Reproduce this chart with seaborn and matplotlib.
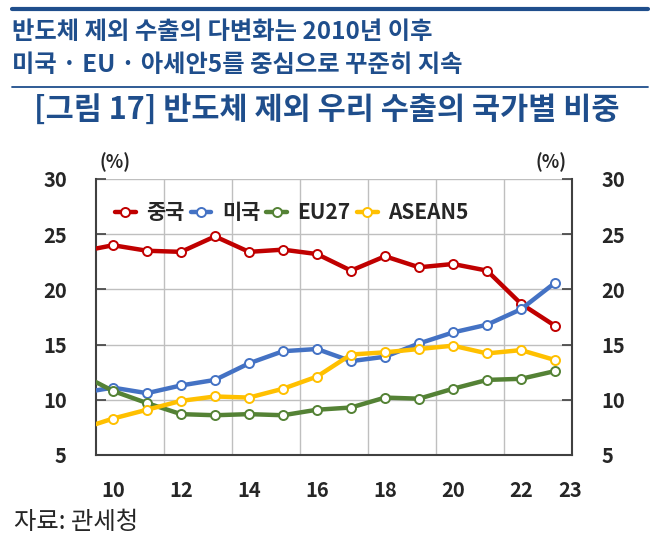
import numpy as np
import pandas as pd
from matplotlib import pyplot as plt
from matplotlib.lines import Line2D
import seaborn as sns

# 연도 (2009는 축 왼쪽 밖으로 잘려 선만 이어짐)
years = list(range(2009, 2024))

china = [23.4, 24.0, 23.5, 23.4, 24.8, 23.4, 23.6, 23.2, 21.7, 23.0, 22.0, 22.3, 21.7, 18.7, 16.7]
usa = [10.6, 11.1, 10.6, 11.3, 11.8, 13.3, 14.4, 14.6, 13.5, 13.9, 15.1, 16.1, 16.8, 18.2, 20.6]
eu27 = [12.4, 10.8, 9.7, 8.7, 8.6, 8.7, 8.6, 9.1, 9.3, 10.2, 10.1, 11.0, 11.8, 11.9, 12.6]
asean5 = [7.3, 8.3, 9.1, 9.9, 10.3, 10.2, 11.0, 12.1, 14.1, 14.3, 14.6, 14.9, 14.2, 14.5, 13.6]

series_names = ["중국", "미국", "EU27", "ASEAN5"]
series_colors = ["#C00000", "#4472C4", "#548235", "#FFC000"]

xtick_pos = [2010, 2012, 2014, 2016, 2018, 2020, 2022, 2023.45]
xtick_labels = ["10", "12", "14", "16", "18", "20", "22", "23"]

df = pd.DataFrame({"year": years, "중국": china, "미국": usa, "EU27": eu27, "ASEAN5": asean5})
long_df = df.melt(id_vars="year", var_name="국가", value_name="비중")

sns.set_style("white")
plt.rcParams['font.family'] = ['Noto Sans CJK KR', 'DejaVu Sans']

fig = plt.figure(figsize=(6.58, 5.38), dpi=100)
ax = fig.add_axes([0.1459, 0.1543, 0.7234, 0.513])

sns.lineplot(data=long_df, x="year", y="비중", hue="국가", hue_order=series_names,
             palette=series_colors, marker="o", markersize=6.5, linewidth=3.2,
             ax=ax, legend=False, zorder=3)

# 흰 속 마커
for line, c in zip(ax.lines, series_colors):
    line.set_markerfacecolor("white")
    line.set_markeredgecolor(c)
    line.set_markeredgewidth(1.4)

ax.set_xlim(2009.5, 2023.5)
ax.set_ylim(5, 30)
ax.set_xlabel("")
ax.set_ylabel("")

ax.set_yticks([5, 10, 15, 20, 25, 30])
ax.set_xticks(xtick_pos)
ax.set_xticklabels(xtick_labels)
ax.set_xticks(np.arange(2011.5, 2022, 2), minor=True)

ax.grid(axis="y", which="major", color="#BFBFBF", linewidth=1)
ax.grid(axis="x", which="minor", color="#BFBFBF", linewidth=1)
ax.set_axisbelow(True)

ax.tick_params(axis="y", direction="in", length=7, width=1.2, left=True, right=True,
               labelleft=True, labelright=True, pad=21, labelsize=14.5, color="#404040")
ax.tick_params(axis="x", which="major", length=0, pad=18, labelsize=14.5)
ax.tick_params(axis="x", which="minor", length=0)
for lab in ax.get_xticklabels() + ax.get_yticklabels():
    lab.set_fontweight("bold")
for t in ax.yaxis.get_major_ticks():
    t.label2.set_fontweight("bold")

ax.spines["top"].set_visible(False)
for s in ["left", "right", "bottom"]:
    ax.spines[s].set_color("#404040")
    ax.spines[s].set_linewidth(1.5)

handles = [Line2D([0], [0], color=c, linewidth=3.2, marker="o", markersize=6.5,
                  markerfacecolor="white", markeredgecolor=c, markeredgewidth=1.4)
           for c in series_colors]
ax.legend(handles, series_names, loc="upper left", ncol=4, frameon=False,
          bbox_to_anchor=(0.0, 0.985), handlelength=1.0, handletextpad=0.5,
          columnspacing=0.3, prop={"size": 15, "weight": "bold"})

# 제목부
navy = "#1F4E8C"
fig.add_artist(Line2D([0.018, 0.985], [0.9838, 0.9838], transform=fig.transFigure,
                      color=navy, linewidth=3))
fig.text(0.018, 0.940, "반도체 제외 수출의 다변화는 2010년 이후", fontsize=17.5,
         color=navy, fontweight="bold", va="center", ha="left")
fig.text(0.018, 0.879, "미국 · EU · 아세안5를 중심으로 꾸준히 지속", fontsize=17.5,
         color=navy, fontweight="bold", va="center", ha="left")
fig.add_artist(Line2D([0.018, 0.985], [0.8383, 0.8383], transform=fig.transFigure,
                      color=navy, linewidth=1.3))
fig.text(0.497, 0.7955, "[그림 17] 반도체 제외 우리 수출의 국가별 비중", fontsize=22,
         color=navy, fontweight="bold", va="center", ha="center")

fig.text(0.175, 0.699, "(%)", fontsize=13, fontweight="bold", ha="center", va="center")
fig.text(0.837, 0.699, "(%)", fontsize=13, fontweight="bold", ha="center", va="center")
fig.text(0.021, 0.030, "자료: 관세청", fontsize=17.5, ha="left", va="center")

fig.savefig("out.png", dpi=100)
